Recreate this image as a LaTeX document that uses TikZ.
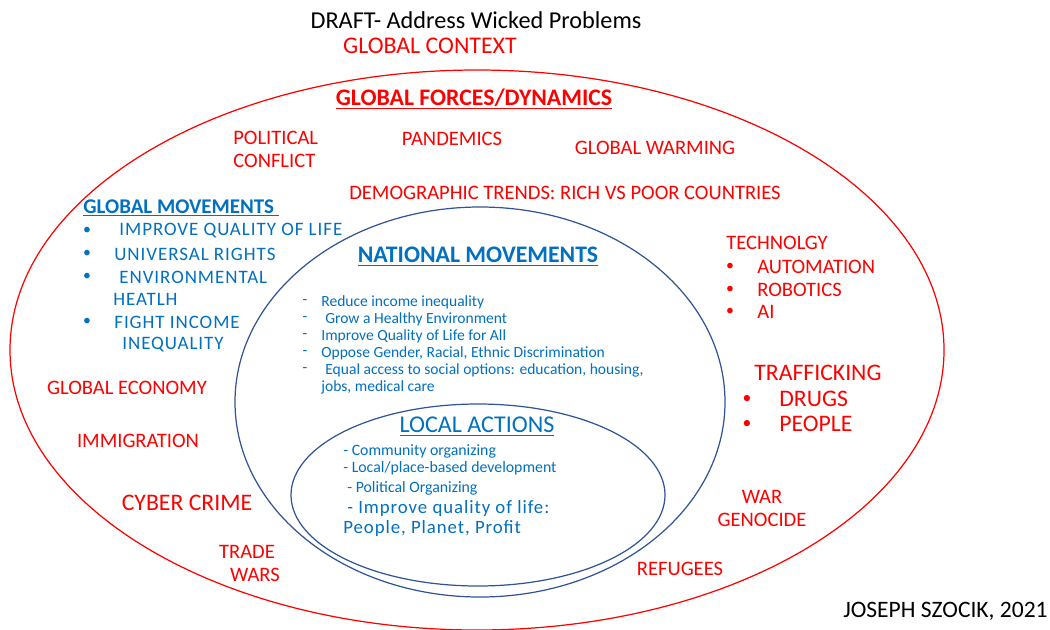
\documentclass[tikz,border=0pt]{standalone}
\usepackage{fontspec}
\setmainfont{Carlito}
\usetikzlibrary{positioning}
\definecolor{forcered}{RGB}{255,0,0}
\definecolor{moveblue}{RGB}{0,112,192}
\definecolor{ringblue}{RGB}{47,85,151}
\newcommand{\fsz}[1]{\fontsize{#1}{#1}\selectfont}
\tikzset{
  ring/.style={line width=0.7pt},
  force/.style={text=forcered,inner sep=0pt,font=\fsz{11.7}},
  bigforce/.style={text=forcered,inner sep=0pt,font=\fsz{13.5}},
  move/.style={text=moveblue,inner sep=0pt,font=\fsz{10.8}\addfontfeature{LetterSpace=5}},
  natl/.style={text=moveblue,inner sep=0pt,font=\fsz{8.85}},
  local/.style={text=moveblue,inner sep=0pt,font=\fsz{9}},
  bigl/.style={text=moveblue,inner sep=0pt,font=\fsz{10.7}\addfontfeature{LetterSpace=5}},
  plain/.style={inner sep=0pt,font=\fsz{13.8}},
  dot/.style={inner sep=0pt,font=\fsz{9}}
}
\begin{document}
\begin{tikzpicture}[x=0.02cm,y=-0.02cm]
\useasboundingbox (0,0) rectangle (1050,629);
% rings
\draw[ring,forcered] (477,350) ellipse [x radius=467,y radius=280];
\draw[ring,ringblue] (480,402) ellipse [x radius=245,y radius=195];
\draw[ring,ringblue] (478,495) ellipse [x radius=187,y radius=91];
% titles
\node[plain](title) at (476,20){DRAFT- Address Wicked Problems};
\node[plain,text=forcered,font=\fsz{13.6}](context) at (430,46){GLOBAL CONTEXT};
\node[plain,text=forcered,font=\fsz{13.5}\bfseries](forces) at (474,99){\underline{GLOBAL FORCES/DYNAMICS}};
\node[plain,anchor=east,font=\fsz{13.4}](author) at (1048,611){JOSEPH SZOCIK, 2021};
% global forces
\node[force,anchor=west](pol) at (233,138){POLITICAL};
\node[force,anchor=west](conf) at (233,161){CONFLICT};
\node[force](pand) at (452,139){PANDEMICS};
\node[force](warm) at (655,148){GLOBAL WARMING};
\node[force](demo) at (565,193){DEMOGRAPHIC TRENDS: RICH VS POOR COUNTRIES};
\node[force](econ) at (127,388){GLOBAL ECONOMY};
\node[force](immi) at (138,441){IMMIGRATION};
\node[bigforce](cyber) at (187,503){CYBER CRIME};
\node[force](trade) at (247,552){TRADE};
\node[force](twars) at (255,575){WARS};
\node[force](war) at (762,497){WAR};
\node[force](geno) at (762,520){GENOCIDE};
\node[force](refu) at (680,569){REFUGEES};
\node[force,anchor=west](tech) at (726,243){TECHNOLGY};
\foreach \y/\t/\n in {267/AUTOMATION/auto,290/ROBOTICS/robo,312/AI/ai}{
  \node[dot,text=forcered](b\n) at (730,\y){\textbullet};
  \node[force,anchor=west](\n) at (757,\y){\t};
}
\node[bigforce,anchor=west](traf) at (754,373){TRAFFICKING};
\foreach \y/\t/\n in {399/DRUGS/drugs,424/PEOPLE/people}{
  \node[dot,text=forcered,font=\fsz{10}](b\n) at (747,\y){\textbullet};
  \node[bigforce,anchor=west](\n) at (779,\y){\t};
}
% global movements
\node[move,anchor=west,font=\fsz{11.9}\bfseries](gmove) at (83,208){\underline{GLOBAL MOVEMENTS\ }};
\foreach \y in {231,254,277,322}
  \node[dot,text=moveblue](bg\y) at (87,\y){\textbullet};
\node[move,anchor=west](qol) at (119,231){IMPROVE QUALITY OF LIFE};
\node[move,anchor=west](rights) at (114,254){UNIVERSAL RIGHTS};
\node[move,anchor=west](env) at (119,277){ENVIRONMENTAL};
\node[move,anchor=west](health) at (113,299){HEATLH};
\node[move,anchor=west](fight) at (114,322){FIGHT INCOME};
\node[move,anchor=west](ineq) at (122,345){INEQUALITY};
% national movements
\node[natl,font=\fsz{13.5}\bfseries](nmove) at (478,257){\underline{NATIONAL MOVEMENTS}};
\foreach \y in {302,319,336,353,370}
  \node[natl](dn\y) at (305,\y){-};
\node[natl,anchor=west](n1) at (321,302){Reduce income inequality};
\node[natl,anchor=west](n2) at (325,319){Grow a Healthy Environment};
\node[natl,anchor=west](n3) at (321,336){Improve Quality of Life for All};
\node[natl,anchor=west](n4) at (321,353){Oppose Gender, Racial, Ethnic Discrimination};
\node[natl,anchor=west](n5) at (325,370){Equal access to social options: education, housing,};
\node[natl,anchor=west](n6) at (321,387){jobs, medical care};
% local actions
\node[local,font=\fsz{13.7}](lact) at (477,427){\underline{LOCAL ACTIONS}};
\node[local,anchor=west](l1) at (343,451){- Community organizing};
\node[local,anchor=west](l2) at (343,468){- Local/place-based development};
\node[local,anchor=west](l3) at (347,488){- Political Organizing};
\node[bigl,anchor=west](l4) at (347,508){- Improve quality of life:};
\node[bigl,anchor=west](l5) at (343,528){People, Planet, Profit};
\end{tikzpicture}
\end{document}
